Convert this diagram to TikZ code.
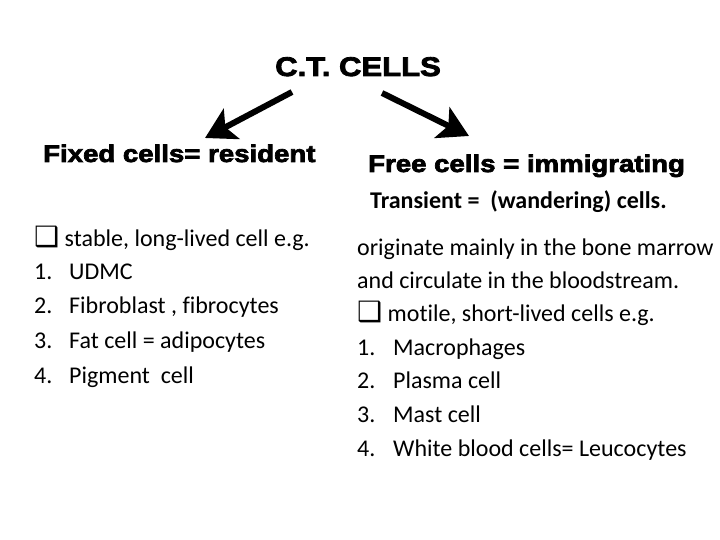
\documentclass[tikz,border=0pt]{standalone}
\usepackage{fontspec}
\setmainfont{Carlito}[Ligatures=NoCommon]
\newfontfamily\blackfont{Liberation Sans}[FakeStretch=1.15, BoldFeatures={FakeBold=3}]
\newfontfamily\symfont{DejaVu Sans}
\usetikzlibrary{arrows.meta}

\begin{document}
\begin{tikzpicture}[x=1pt,y=-1pt]

% --- Page frame (720 x 540) ---
\useasboundingbox (0,0) rectangle (720,540);

% --- Styles ---
\tikzset{
  title/.style={font=\blackfont\bfseries\fontsize{27}{31}\selectfont, inner sep=0pt, anchor=base},
  head/.style={font=\blackfont\bfseries\fontsize{24}{28}\selectfont, inner sep=0pt, anchor=base west},
  body/.style={font=\fontsize{24}{28}\selectfont, inner sep=0pt, anchor=base west},
  bigarrow/.style={line width=6pt, -{Stealth[length=30pt,width=34pt,inset=7pt]}}
}
\newcommand\tickbox{{\symfont\fontsize{28}{30}\selectfont ❑}}

% --- Title and the two branches ---
\node[title] (ct) at (358,76) {C.T. CELLS};
\node[head] (fixed) at (43,162) {Fixed cells= resident};
\node[head] (free) at (368,172) {Free cells = immigrating};
\node[body, font=\bfseries\fontsize{24}{28}\selectfont] (transient) at (370,208) {Transient =\ \ (wandering) cells.};

% --- Arrows ---
\coordinate (lfrom) at (292,92);
\coordinate (lto) at (205,138);
\coordinate (rfrom) at (382,93);
\coordinate (rto) at (469,136);
\draw[bigarrow] (lfrom) -- (lto);
\draw[bigarrow] (rfrom) -- (rto);

% --- Left column: fixed cells ---
\node[body] (stable) at (34,246) {\tickbox\ stable, long-lived cell e.g.};
\foreach \n/\y/\txt in {1/279/UDMC, 2/313/{Fibroblast , fibrocytes}, 3/348/{Fat cell = adipocytes}, 4/383/{Pigment\ \ cell}} {
  \node[body] (fixnum\n) at (34,\y) {\n.};
  \node[body] (fixitem\n) at (69,\y) {\txt};
}

% --- Right column: free cells ---
\node[body] (origin) at (357,255) {originate mainly in the bone marrow};
\node[body] (circ) at (357,288) {and circulate in the bloodstream.};
\node[body] (motile) at (357,321) {\tickbox\ motile, short-lived cells e.g.};
\foreach \n/\y/\txt in {1/355/Macrophages, 2/388/Plasma cell, 3/422/Mast cell, 4/456/{White blood cells= Leucocytes}} {
  \node[body] (freenum\n) at (357,\y) {\n.};
  \node[body] (freeitem\n) at (393,\y) {\txt};
}

\end{tikzpicture}
\end{document}
